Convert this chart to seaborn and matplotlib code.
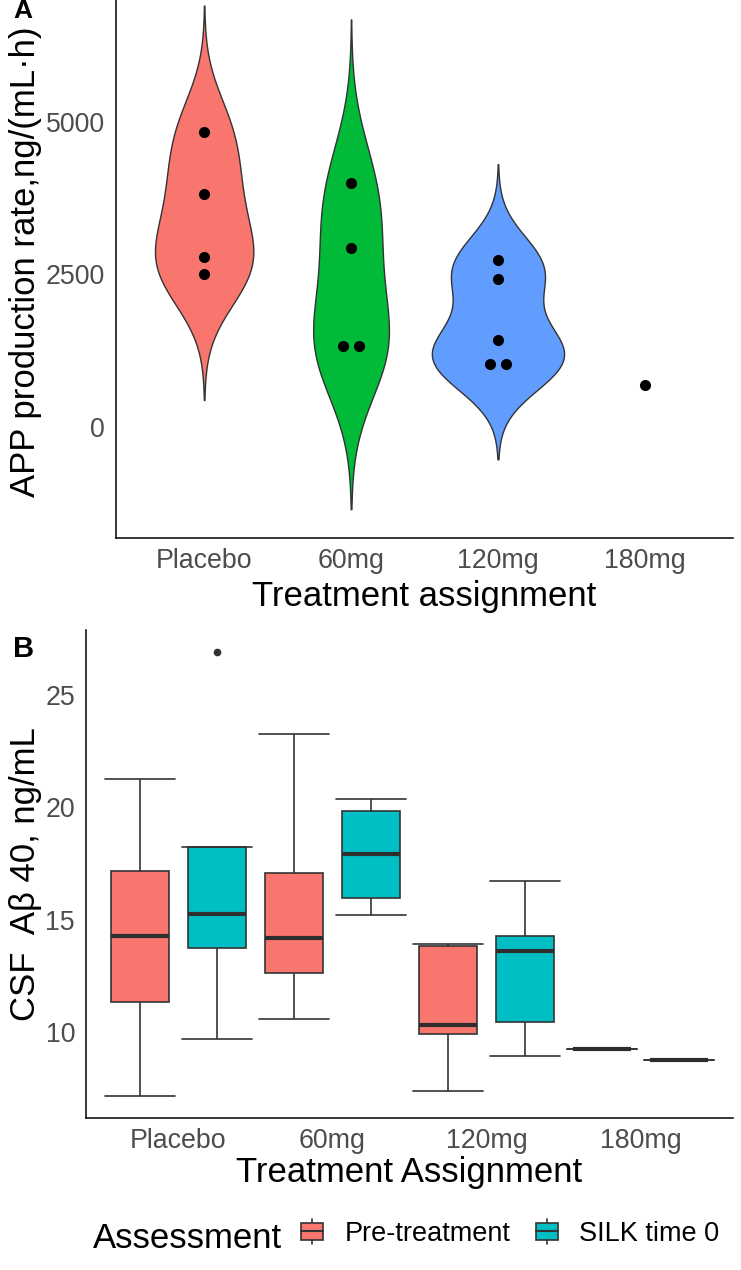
import numpy as np
import pandas as pd
import matplotlib
matplotlib.use("Agg")
import matplotlib.pyplot as plt
import seaborn as sns
from matplotlib.patches import Rectangle, Patch
from matplotlib.lines import Line2D
from matplotlib.legend_handler import HandlerBase
from matplotlib.transforms import blended_transform_factory

# ---------------- data ----------------
groups = ["Placebo", "60mg", "120mg", "180mg"]

# Panel A: APP production rate, ng/(mL·h)
app_placebo = [4836, 3820, 2787, 2510]
app_60mg = [4000, 2934, 1328, 1328]
app_120mg = [2738, 2426, 1426, 1033, 1033]
app_180mg = [689]
violin_colors = ["#F8766D", "#00BA38", "#619CFF"]

# Panel B: CSF Abeta 40, ng/mL
assessments = ["Pre-treatment", "SILK time 0"]
csf_pre_placebo = [7.17, 11.35, 14.26, 17.18, 21.27]
csf_silk_placebo = [9.70, 13.73, 15.26, 18.25, 26.90]
csf_pre_60mg = [10.59, 12.64, 14.17, 17.09, 23.27]
csf_silk_60mg = [15.20, 15.97, 17.92, 19.83, 20.39]
csf_pre_120mg = [7.36, 9.91, 10.30, 13.82, 13.91]
csf_silk_120mg = [8.95, 10.44, 13.63, 14.29, 16.74]
csf_pre_180mg = [9.24]
csf_silk_180mg = [8.77]
box_colors = ["#F8766D", "#00BFC4"]

# ---------------- frames ----------------
app_lists = [app_placebo, app_60mg, app_120mg, app_180mg]
df_a = pd.DataFrame({
    "group": [g for g, v in zip(groups, app_lists) for _ in v],
    "rate": [x for v in app_lists for x in v],
})

csf_lists = {
    ("Placebo", "Pre-treatment"): csf_pre_placebo,
    ("Placebo", "SILK time 0"): csf_silk_placebo,
    ("60mg", "Pre-treatment"): csf_pre_60mg,
    ("60mg", "SILK time 0"): csf_silk_60mg,
    ("120mg", "Pre-treatment"): csf_pre_120mg,
    ("120mg", "SILK time 0"): csf_silk_120mg,
    ("180mg", "Pre-treatment"): csf_pre_180mg,
    ("180mg", "SILK time 0"): csf_silk_180mg,
}
rows = []
for (g, a), vals in csf_lists.items():
    for v in vals:
        rows.append({"group": g, "assessment": a, "abeta": v})
df_b = pd.DataFrame(rows)

# ---------------- style ----------------
sns.set_style("white")
plt.rcParams["font.family"] = ["Liberation Sans", "DejaVu Sans"]
plt.rcParams["text.color"] = "black"
plt.rcParams["axes.labelcolor"] = "black"
TICK_COLOR = "#4D4D4D"
LINE_COLOR = "#333333"

W, H = 741, 1270
fig = plt.figure(figsize=(W / 100, H / 100), dpi=100)

ax1 = fig.add_axes([116 / W, 1 - 538 / H, 617 / W, 558 / H])
ax2 = fig.add_axes([86 / W, 1 - 1118 / H, 647 / W, 488 / H])


def nrd0(kde):
    """R's bw.nrd0 bandwidth expressed as a gaussian_kde factor."""
    x = np.asarray(kde.dataset).ravel()
    sd = np.std(x, ddof=1)
    q75, q25 = np.percentile(x, [75, 25])
    lo = min(sd, (q75 - q25) / 1.34)
    bw = 0.9 * lo * len(x) ** -0.2
    return bw / sd


# ---------------- Panel A ----------------
df_v = df_a[df_a["group"].map(df_a["group"].value_counts()) > 1]
sns.violinplot(
    data=df_v, x="group", y="rate", order=groups,
    hue="group", hue_order=groups[:3], palette=violin_colors, saturation=1,
    legend=False, cut=3, bw_method=nrd0, density_norm="area", common_norm=True,
    width=0.9, inner=None, linewidth=1.0, linecolor=LINE_COLOR, gridsize=512,
    ax=ax1,
)


def tie_offsets(values, spacing):
    vals = np.asarray(values, dtype=float)
    off = np.zeros(len(vals))
    for v in np.unique(vals):
        idx = np.where(vals == v)[0]
        k = len(idx)
        off[idx] = (np.arange(k) - (k - 1) / 2) * spacing
    return off


pt_x = []
for i, g in enumerate(groups):
    vals = df_a.loc[df_a["group"] == g, "rate"].values
    pt_x.extend(list(i + tie_offsets(vals, 0.108)))
df_a["xpos"] = pt_x
sns.scatterplot(data=df_a, x="xpos", y="rate", color="black", s=64,
                linewidth=0, ax=ax1, zorder=5, legend=False)

ax1.set_xlim(-0.6, 3.6)
ax1.set_ylim(-1824, 7326)
ax1.set_yticks([0, 2500, 5000])
ax1.set_xticks(range(len(groups)))
ax1.set_xticklabels(groups)
ax1.set_xlabel("Treatment assignment", fontsize=25, color="black")
ax1.set_ylabel("APP production rate,ng/(mL·h)", fontsize=25, color="black")

# ---------------- Panel B ----------------
sns.boxplot(
    data=df_b, x="group", y="abeta", hue="assessment", order=groups,
    hue_order=assessments, palette=box_colors, saturation=1,
    width=1.0, gap=0.25, linewidth=1.2, linecolor=LINE_COLOR, whis=1.5,
    legend=False, ax=ax2, capwidths=0.45,
    medianprops=dict(linewidth=3.0, color="#2E2E2E"),
    flierprops=dict(marker="o", markersize=4.5, markerfacecolor=LINE_COLOR,
                    markeredgecolor=LINE_COLOR),
)
ax2.set_xlim(-0.6, 3.6)
ax2.set_ylim(6.18, 27.89)
ax2.set_yticks([10, 15, 20, 25])
ax2.set_xticks(range(len(groups)))
ax2.set_xticklabels(groups)
ax2.set_xlabel("Treatment Assignment", fontsize=25, color="black")
ax2.set_ylabel("CSF  Aβ 40, ng/mL", fontsize=25, color="black")

# ---------------- axes styling ----------------
label_y = {ax1: 0.5 - 3 / 558, ax2: 0.5}
for ax in (ax1, ax2):
    for s in ("top", "right"):
        ax.spines[s].set_visible(False)
    for s in ("left", "bottom"):
        ax.spines[s].set_color("black")
        ax.spines[s].set_linewidth(1.1)
    ax.tick_params(axis="both", direction="out", length=2.9, width=1.0,
                   color=LINE_COLOR, labelcolor=TICK_COLOR, labelsize=19.3)
    ax.tick_params(axis="x", pad=4)
    ax.tick_params(axis="y", pad=5)
    ax.grid(False)
    ax.set_facecolor("white")
    ax.yaxis.set_label_coords(26 / W, label_y[ax],
                              transform=blended_transform_factory(fig.transFigure, ax.transAxes))
    ax.yaxis.label.set_va("center")

ax1.xaxis.set_label_coords(0.5, 1 - 580 / H,
                           transform=blended_transform_factory(ax1.transAxes, fig.transFigure))
ax1.xaxis.label.set_va("top")
ax2.xaxis.set_label_coords(0.5, 1 - 1156 / H,
                           transform=blended_transform_factory(ax2.transAxes, fig.transFigure))
ax2.xaxis.label.set_va("top")

# panel letters
fig.text(13 / W, 1 - 18 / H, "A", fontsize=19, fontweight="bold", va="baseline",
         color="black")
fig.text(13 / W, 1 - 657 / H, "B", fontsize=21, fontweight="bold", va="baseline",
         color="black")


# ---------------- legend ----------------
class BoxKey(HandlerBase):
    def create_artists(self, legend, orig_handle, xdescent, ydescent,
                       width, height, fontsize, trans):
        x0, y0 = -xdescent, -ydescent
        fc = orig_handle.get_facecolor()
        cx = x0 + width / 2
        whisk = Line2D([cx, cx], [y0 - 0.2 * height, y0 + 1.2 * height],
                       color=LINE_COLOR, lw=1.2, transform=trans)
        rect = Rectangle((x0, y0), width, height, facecolor=fc,
                         edgecolor=LINE_COLOR, lw=1.2, transform=trans)
        med = Line2D([x0, x0 + width], [y0 + height / 2] * 2,
                     color=LINE_COLOR, lw=1.5, transform=trans)
        return [whisk, rect, med]


handles = [Patch(facecolor=c) for c in box_colors]
leg = fig.legend(handles, assessments, handler_map={Patch: BoxKey()}, ncol=2,
                 loc="center left", bbox_to_anchor=(301 / W, 1 - 1234 / H),
                 frameon=False, fontsize=19.5, handlelength=0.8, handleheight=0.62,
                 handletextpad=0.8, columnspacing=0.95, borderpad=0, borderaxespad=0)
for t in leg.get_texts():
    t.set_color("black")
fig.text(93 / W, 1 - 1248 / H, "Assessment", fontsize=25, va="baseline", color="black")

fig.savefig("out.png", dpi=100)
